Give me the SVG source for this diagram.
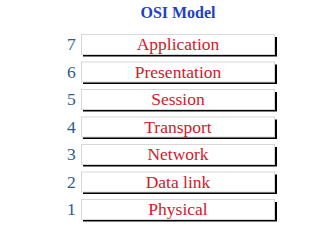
<svg xmlns="http://www.w3.org/2000/svg" width="320" height="240" viewBox="0 0 320 240">
  <style>
    .title { font-family: 'Liberation Serif'; font-weight: bold; font-size: 16px; fill: #1f3fc8; }
    .num { font-family: 'Liberation Serif'; font-size: 17.5px; fill: #2a5d8f; }
    .label { font-family: 'Liberation Serif'; font-size: 17.5px; fill: #d0202a; text-anchor: middle; }
    .shadow { fill: none; stroke: #000; stroke-width: 2; }
    .box { fill: #fff; stroke: #d8d8d8; stroke-width: 1; }
  </style>
  <defs>
    <!-- one layer: light box with a dark drop edge on the right and bottom -->
    <g id="layer">
      <path class="shadow" d="M83 21.5 H276 V3" />
      <rect class="box" x="81.5" y="0.5" width="193" height="20" />
    </g>
  </defs>
  <rect width="320" height="240" fill="#fff" />
  <text class="title" font-family="Liberation Serif" x="178" y="18" text-anchor="middle">OSI Model</text>

  <g id="layer7" transform="translate(0,34)">
    <use href="#layer" />
    <text class="num" font-family="Liberation Serif" x="67" y="16">7</text>
    <text class="label" font-family="Liberation Serif" x="178" y="16">Application</text>
  </g>
  <g id="layer6" transform="translate(0,61.5)">
    <use href="#layer" />
    <text class="num" font-family="Liberation Serif" x="67" y="16">6</text>
    <text class="label" font-family="Liberation Serif" x="178" y="16">Presentation</text>
  </g>
  <g id="layer5" transform="translate(0,89)">
    <use href="#layer" />
    <text class="num" font-family="Liberation Serif" x="67" y="16">5</text>
    <text class="label" font-family="Liberation Serif" x="178" y="16">Session</text>
  </g>
  <g id="layer4" transform="translate(0,116.5)">
    <use href="#layer" />
    <text class="num" font-family="Liberation Serif" x="67" y="16">4</text>
    <text class="label" font-family="Liberation Serif" x="178" y="16">Transport</text>
  </g>
  <g id="layer3" transform="translate(0,144)">
    <use href="#layer" />
    <text class="num" font-family="Liberation Serif" x="67" y="16">3</text>
    <text class="label" font-family="Liberation Serif" x="178" y="16">Network</text>
  </g>
  <g id="layer2" transform="translate(0,171.5)">
    <use href="#layer" />
    <text class="num" font-family="Liberation Serif" x="67" y="16">2</text>
    <text class="label" font-family="Liberation Serif" x="178" y="16">Data link</text>
  </g>
  <g id="layer1" transform="translate(0,199)">
    <use href="#layer" />
    <text class="num" font-family="Liberation Serif" x="67" y="16">1</text>
    <text class="label" font-family="Liberation Serif" x="178" y="16">Physical</text>
  </g>
</svg>
